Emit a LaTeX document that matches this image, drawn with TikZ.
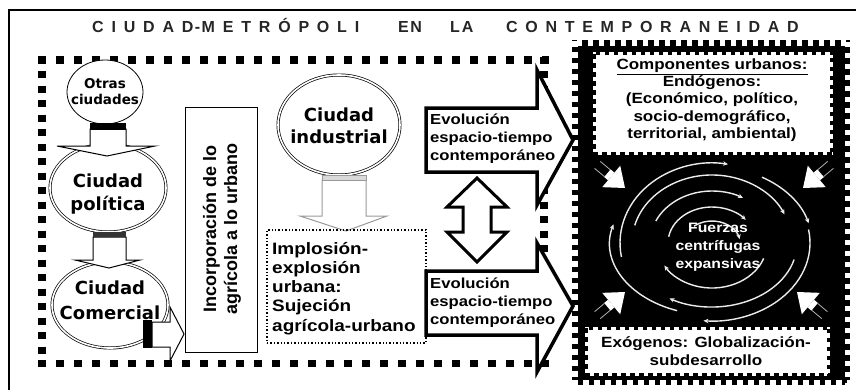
\documentclass[tikz,border=0pt]{standalone}
\usepackage{fontspec}
\usetikzlibrary{arrows.meta,shapes.geometric}
\newfontfamily\lsans{Liberation Sans}
\newfontfamily\evfont{Liberation Sans Bold}[FakeStretch=1.15]
\newfontfamily\dvs{DejaVu Sans}
\newcommand\tsa{\hspace{7.8pt}}
\newcommand\tsb{\hspace{7.7pt}}
\newcommand\inarrow[2]{%
  \begin{scope}[shift={#1}, rotate=#2]
    \fill[white] (0,0) -- (-18,-14) -- (-18,14) -- cycle;
    \fill[white] (-18,-5) rectangle (-23,5);
    \draw[gray!60, line width=0.8pt] (-23,-4.5) -- (-36,-4.5) (-23,4.5) -- (-36,4.5);
  \end{scope}}
\begin{document}
\begin{tikzpicture}[x=1pt,y=-1pt,
  frameh/.style={line width=7.5pt, dash pattern=on 8pt off 10pt},
  framev/.style={line width=7.5pt, dash pattern=on 7pt off 7.5pt},
  dbl/.style={ellipse, draw, double, double distance=1.6pt, line width=0.7pt, inner sep=0pt, fill=white},
  etext/.style={font=\dvs\bfseries\fontsize{18}{23}\selectfont, align=center, inner sep=0pt},
  blk/.style={draw=black, line width=1pt, fill=white, line join=miter},
  evo/.style={draw=black, line width=3.5pt, line join=miter},
  evtext/.style={font=\evfont\fontsize{14.5}{18}\selectfont, align=left, inner sep=0pt, anchor=north west},
  wbox/.style={fill=white, inner sep=0pt, postaction={draw=black, line width=6pt, dash pattern=on 4.5pt off 4.5pt}},
  btext/.style={font=\evfont\fontsize{14.8}{17.3}\selectfont, align=center, inner sep=0pt},
  swirl/.style={draw=gray!15, line width=1.4pt, -{Stealth[length=5pt,width=4.5pt]}},
  titlef/.style={font=\lsans\bfseries\fontsize{16}{18}\selectfont, text=black!85, inner sep=0pt, anchor=base west}
]
\useasboundingbox (0,0) rectangle (856,389);
\clip (0,0) rectangle (856,389);
\fill[white] (0,0) rectangle (856,389);
% outer frame
\draw[line width=2.5pt] (9,420) -- (9,10) -- (880,10);
% title
\node[titlef] (t1) at (92,32) {C\tsa I\tsa U\tsa D\tsa A\tsa D\kern1.5pt-\kern1.5pt M\tsa E\tsa T\tsa R\tsa Ó\tsa P\tsa O\tsa L\tsa I};
\node[titlef] (t2) at (398,32) {E\kern1.5pt N};
\node[titlef] (t3) at (450,32) {L\kern2pt A};
\node[titlef] (t4) at (506,32) {C\tsb O\tsb N\tsb T\tsb E\tsb M\tsb P\tsb O\tsb R\tsb A\tsb N\tsb E\tsb I\tsb D\tsb A\tsb D};
% left dotted frame
\draw[frameh] (38,60) -- (549,60);
\draw[frameh] (38,363.5) -- (549,363.5);
\draw[framev] (42,56.5) -- (42,367);
\draw[framev] (544,56.5) -- (544,367);
% ellipses
\node[ellipse, draw, line width=0.8pt, fill=white, inner sep=0pt, minimum width=76pt, minimum height=64pt] (otras) at (105,92) {};
\node[etext, font=\dvs\bfseries\fontsize{13.5}{16}\selectfont] (otrast) at (otras.center) {Otras\\ciudades};
\node[dbl, minimum width=116pt, minimum height=88pt] (pol) at (108,188) {};
\node[etext] (polt) at (108,194) {Ciudad\\política};
\node[dbl, minimum width=116pt, minimum height=86pt] (com) at (110,305) {};
\node[etext, font=\dvs\bfseries\fontsize{18}{25}\selectfont] (comt) at (110,300) {Ciudad\\Comercial};
\node[dbl, minimum width=122pt, minimum height=100pt] (ind) at (339,125) {};
\node[etext, font=\dvs\bfseries\fontsize{18}{22}\selectfont] (indt) at (339,126) {Ciudad\\industrial};
% block arrows on the left
\draw[blk] (90,129) -- (90,146) -- (57,146) -- (107,156) -- (155,146) -- (126,146) -- (126,129) -- cycle;
\fill[black] (90,123) rectangle (126,130);
\draw[blk] (93,237) -- (93,260) -- (75,260) -- (109,268) -- (140,260) -- (126,260) -- (126,237) -- cycle;
\fill[black!80] (93,232) rectangle (126,237);
\draw[blk] (152,322) -- (170,322) -- (170,307) -- (184,334) -- (170,361) -- (170,347) -- (152,347) -- cycle;
\fill[black] (143,320) rectangle (152,348);
\draw[blk, draw=gray!80] (322,180) -- (322,216) -- (300,216) -- (346,231) -- (387,216) -- (366,216) -- (366,180) -- cycle;
\draw[gray!80, line width=1pt, fill=gray!30] (322,175) rectangle (366,180);
% Incorporacion box
\node[draw, line width=1pt, fill=white, minimum width=72pt, minimum height=245pt, inner sep=0pt] (inc) at (221,229.5) {};
\node[rotate=90, font=\lsans\bfseries\fontsize{18}{21}\selectfont, align=center, inner sep=0pt] (inct) at (222,229) {Incorporación de lo\\agrícola a lo urbano};
% Implosion box
\node[draw, dotted, line width=1.4pt, minimum width=159pt, minimum height=113pt, inner sep=0pt] (imp) at (346.5,286.5) {};
\node[font=\evfont\fontsize{16.5}{19.2}\selectfont, align=left, inner sep=0pt, anchor=north west] (impt) at (272,242) {Implosión-\\explosión\\urbana:\\Sujeción\\agrícola-urbano};
% right black box
\node[fill=black, inner sep=0pt, minimum width=278pt, minimum height=345pt, postaction={draw=white, line width=11pt, dash pattern=on 5.5pt off 5.5pt}] (rbox) at (711,212.5) {};
% swirl
\coordinate (sc) at (712,243);
\draw[swirl] (sc) ++(170:92 and 80) arc[start angle=170, end angle=280, x radius=92, y radius=80];
\draw[swirl] (sc) ++(195:80 and 68) arc[start angle=195, end angle=335, x radius=80, y radius=68];
\draw[swirl] (sc) ++(205:62 and 52) arc[start angle=205, end angle=300, x radius=62, y radius=52];
\draw[swirl] (sc) ++(350:98 and 78) arc[start angle=350, end angle=455, x radius=98, y radius=78];
\draw[swirl] (sc) ++(15:85 and 64) arc[start angle=15, end angle=120, x radius=85, y radius=64];
\draw[swirl] (sc) ++(110:102 and 72) arc[start angle=110, end angle=195, x radius=102, y radius=72];
\draw[swirl] (sc) ++(190:44 and 36) arc[start angle=190, end angle=320, x radius=44, y radius=36];
\draw[swirl] (sc) ++(20:55 and 45) arc[start angle=20, end angle=150, x radius=55, y radius=45];
\draw[swirl] (sc) ++(230:28 and 22) arc[start angle=230, end angle=350, x radius=28, y radius=22];
\draw[swirl] (sc) ++(300:100 and 76) arc[start angle=300, end angle=345, x radius=100, y radius=76];
\node[font=\evfont\fontsize{13.7}{18}\selectfont, text=white, align=center, inner sep=0pt] (fuer) at (718,247) {Fuerzas\\centrífugas\\expansivas};
% inward white arrows
\inarrow{(625,188)}{-40}
\inarrow{(803,188)}{-140}
\inarrow{(625,292)}{40}
\inarrow{(797,292)}{140}
% white boxes
\node[wbox, minimum width=240pt, minimum height=103pt] (endo) at (713,103.5) {};
\node[btext] (endot) at (712,100) {\underline{Componentes urbanos:}\\Endógenos:\\(Económico, político,\\socio-demográfico,\\territorial, ambiental)};
\node[wbox, minimum width=245pt, minimum height=49pt] (exo) at (707.5,351.5) {};
\node[btext] (exot) at (706,351) {Exógenos: Globalización-\\subdesarrollo};
% Evolucion arrows
\fill[white] (426,108) -- (537,108) -- (537,70) -- (573,140) -- (537,205) -- (537,172) -- (426,172) -- cycle;
\node[evtext] (ev1) at (430,114) {Evolución\\espacio-tiempo\\contemporáneo};
\draw[evo] (426,108) -- (537,108) -- (537,70) -- (573,140) -- (537,205) -- (537,172) -- (426,172) -- cycle;
\fill[white] (426,271) -- (537,271) -- (537,243) -- (573,306) -- (537,372) -- (537,335) -- (426,335) -- cycle;
\node[evtext] (ev2) at (430,278) {Evolución\\espacio-tiempo\\contemporáneo};
\draw[evo] (426,271) -- (537,271) -- (537,243) -- (573,306) -- (537,372) -- (537,335) -- (426,335) -- cycle;
% double vertical arrow
\draw[line width=3pt, fill=white, line join=miter] (477,178) -- (507,207) -- (491,207) -- (491,232) -- (507,232) -- (477,262) -- (447,232) -- (463,232) -- (463,207) -- (447,207) -- cycle;
\end{tikzpicture}
\end{document}
